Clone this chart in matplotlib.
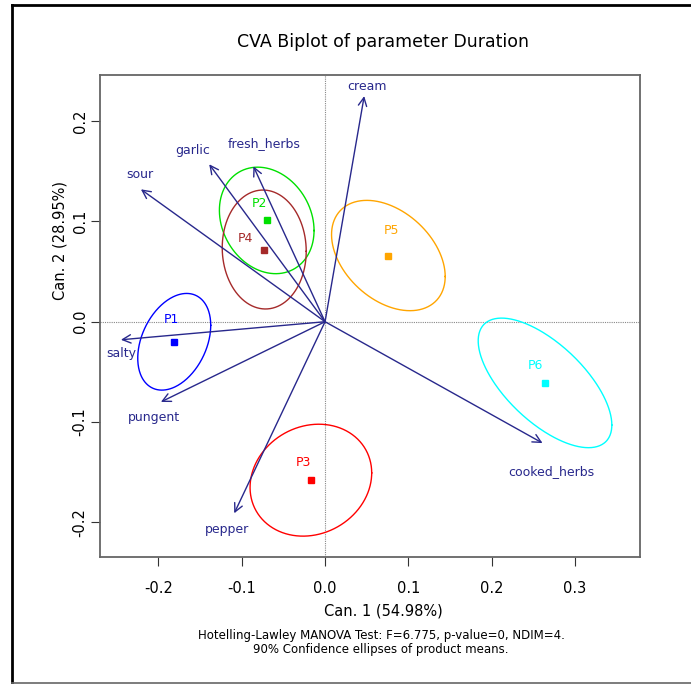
import numpy as np
import matplotlib
matplotlib.use("Agg")
import matplotlib.pyplot as plt
from matplotlib.lines import Line2D

# product means (canonical scores)
products = ['P1', 'P2', 'P3', 'P4', 'P5', 'P6']
prod_x = [-0.181, -0.070, -0.017, -0.073, 0.076, 0.264]
prod_y = [-0.020, 0.101, -0.158, 0.072, 0.066, -0.061]
prod_colors = ['#0000FF', '#00E000', '#FF0000', '#A52A2A', '#FFA500', '#00FFFF']

# 90% confidence ellipses: half extents in x / y and correlation
ell_sx = [0.0438, 0.0568, 0.0730, 0.0504, 0.0682, 0.0802]
ell_sy = [0.0482, 0.0531, 0.0558, 0.0593, 0.0550, 0.0646]
ell_r = [0.34, -0.19, 0.13, -0.03, -0.38, -0.65]

# attribute loadings
attributes = ['cream', 'fresh_herbs', 'garlic', 'sour', 'salty', 'pungent', 'pepper', 'cooked_herbs']
att_x = [0.047, -0.086, -0.139, -0.221, -0.245, -0.197, -0.109, 0.261]
att_y = [0.225, 0.155, 0.157, 0.132, -0.018, -0.080, -0.191, -0.121]

xticks = [-0.2, -0.1, 0.0, 0.1, 0.2, 0.3]
yticks = [-0.2, -0.1, 0.0, 0.1, 0.2]

# label offsets in pixels
prod_lab_off = [(-3, 22), (-7, 17), (-7, 18), (-19, 11), (3, 25), (-10, 17)]
att_lab_off = [(3, 10), (11, 23), (-17, 14), (-1, 15), (0, -14), (-7, -16), (-7, -16), (9, -28)]

W, H = 691, 684
arrow_col = '#28288c'
px = 0.72  # points per pixel at dpi 100

fig = plt.figure(figsize=(W / 100, H / 100), dpi=100)
ax = fig.add_axes([100 / W, 1 - 557 / H, 540 / W, 482.5 / H])
ax.set_xlim(-0.2701, 0.378)
ax.set_ylim(-0.2346, 0.2465)

ax.axhline(0, color='#888888', lw=0.8, ls=(0, (1, 1)), zorder=1)
ax.axvline(0, color='#888888', lw=0.8, ls=(0, (1, 1)), zorder=1)

t = np.linspace(0, 2 * np.pi, 300)
for i in range(len(products)):
    ex = prod_x[i] + ell_sx[i] * np.cos(t)
    ey = prod_y[i] + ell_sy[i] * (ell_r[i] * np.cos(t) + np.sqrt(1 - ell_r[i] ** 2) * np.sin(t))
    ax.plot(ex, ey, color=prod_colors[i], lw=1.0, zorder=2)
    ax.plot(prod_x[i], prod_y[i], 's', color=prod_colors[i], ms=5, zorder=4)
    dx, dy = prod_lab_off[i]
    ax.annotate(products[i], (prod_x[i], prod_y[i]), xytext=(dx * px, dy * px),
                textcoords='offset points', ha='center', va='center',
                color=prod_colors[i], fontsize=9)

for i in range(len(attributes)):
    ax.annotate('', xy=(att_x[i], att_y[i]), xytext=(0, 0),
                arrowprops=dict(arrowstyle='->,head_length=0.6,head_width=0.3',
                                color=arrow_col, lw=1.0, shrinkA=0, shrinkB=0), zorder=3)
    dx, dy = att_lab_off[i]
    ax.annotate(attributes[i], (att_x[i], att_y[i]), xytext=(dx * px, dy * px),
                textcoords='offset points', ha='center', va='center',
                color=arrow_col, fontsize=9)

ax.set_xticks(xticks)
ax.set_xticklabels(['%.1f' % v for v in xticks])
ax.set_yticks(yticks)
ax.set_yticklabels(['%.1f' % v for v in yticks], rotation=90, va='center')
ax.tick_params(axis='both', direction='out', length=6.5, width=0.8, color='#333333', labelsize=10.5)
ax.tick_params(axis='x', pad=11)
ax.tick_params(axis='y', pad=2.5)
for s in ax.spines.values():
    s.set_color('#666666')
    s.set_linewidth(1.3)

# texts
fig.text(383 / W, 1 - 42 / H, 'CVA Biplot of parameter Duration', ha='center', va='center', fontsize=12.5)
fig.text(383 / W, 1 - 610.5 / H, 'Can. 1 (54.98%)', ha='center', va='center', fontsize=10.5)
fig.text(60 / W, 1 - 241 / H, 'Can. 2 (28.95%)', ha='center', va='center', fontsize=10.5, rotation=90)
fig.text(381 / W, 1 - 635 / H, 'Hotelling-Lawley MANOVA Test: F=6.775, p-value=0, NDIM=4.',
         ha='center', va='center', fontsize=8.5)
fig.text(381 / W, 1 - 649 / H, '90% Confidence ellipses of product means.',
         ha='center', va='center', fontsize=8.5)

# outer frame
fig.add_artist(Line2D([12 / W, 12 / W], [1 - 5 / H, 1 - 683 / H], transform=fig.transFigure, color='black', lw=2))
fig.add_artist(Line2D([12 / W, 1], [1 - 5 / H, 1 - 5 / H], transform=fig.transFigure, color='black', lw=2))
fig.add_artist(Line2D([12 / W, 1], [1 - 683 / H, 1 - 683 / H], transform=fig.transFigure, color='#666666', lw=1.2))

fig.savefig('out.png', dpi=100)
